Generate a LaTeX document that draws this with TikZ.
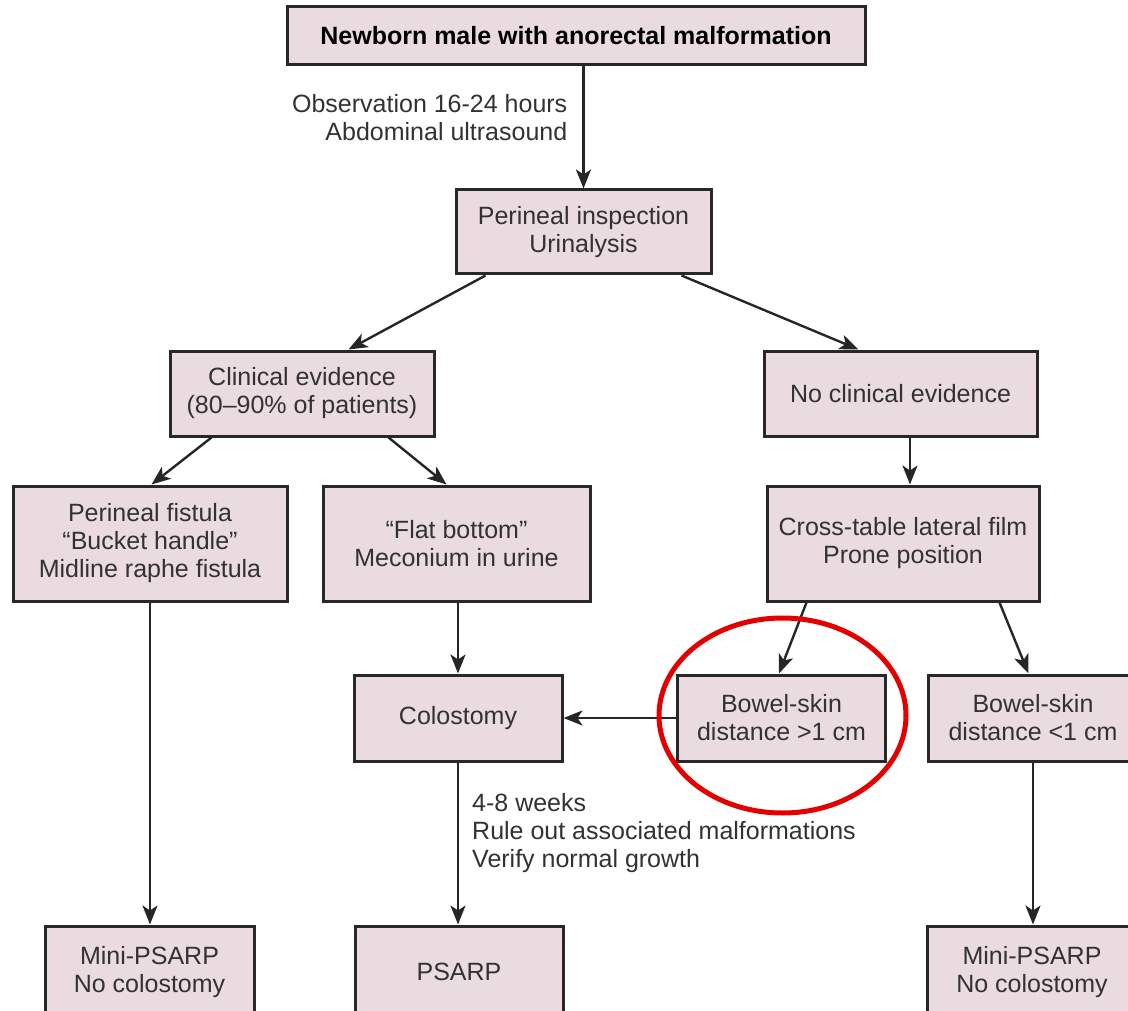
\documentclass[tikz,border=0pt]{standalone}
\usepackage{fontspec}
\setmainfont{Liberation Sans}
\usetikzlibrary{arrows.meta,positioning,calc}
\definecolor{boxfill}{RGB}{233,219,224}
\definecolor{boxline}{RGB}{40,40,40}
\definecolor{txtgray}{RGB}{50,50,50}
\definecolor{ringred}{RGB}{228,0,0}

\begin{document}
\begin{tikzpicture}[x=1pt,y=-1pt,>={Stealth[length=19pt,width=15pt,inset=5pt]},line width=2.4pt,
      stage/.style={draw=boxline,line width=3pt,fill=boxfill,align=center,text=txtgray,
        font=\fontsize{25}{28}\selectfont,inner sep=0pt},
      note/.style={text=txtgray,font=\fontsize{25}{28}\selectfont,inner sep=0pt},
      ring/.style={draw=ringred,line width=5pt}]
      \useasboundingbox (0,0) rectangle (1128,1011);
      \clip (0,0) rectangle (1128,1011);

      \node[stage,minimum width=578,minimum height=58,text=black,
        font=\bfseries\fontsize{25}{28}\selectfont] (top) at (576,36) {Newborn male with anorectal malformation};
      \node[stage,minimum width=255,minimum height=84] (perin) at (583.5,232) {Perineal inspection\\Urinalysis};
      \node[stage,minimum width=264,minimum height=85] (clin) at (302,393.5) {Clinical evidence\\(80--90\% of patients)};
      \node[stage,minimum width=273,minimum height=85] (noclin) at (900.5,393.5) {No clinical evidence};
      \node[stage,minimum width=274,minimum height=115] (fist) at (150,543.5) {Perineal fistula\\“Bucket handle”\\Midline raphe fistula};
      \node[stage,minimum width=267,minimum height=115] (flat) at (456.5,543.5) {“Flat bottom”\\Meconium in urine};
      \node[stage,minimum width=272,minimum height=115] (cross) at (903,543.5) {Cross-table lateral film\\Prone position};
      \node[stage,minimum width=208,minimum height=86] (colo) at (458,718) {Colostomy};
      \node[stage,minimum width=208,minimum height=86] (bgt) at (781.5,718) {Bowel-skin\\distance >1 cm};
      \node[stage,minimum width=210,minimum height=86] (blt) at (1033,718) {Bowel-skin\\distance <1 cm};
      \node[stage,minimum width=209,minimum height=92] (mini1) at (149.5,972) {Mini-PSARP\\No colostomy};
      \node[stage,minimum width=208,minimum height=92] (psarp) at (459,972) {PSARP};
      \node[stage,minimum width=210,minimum height=92] (mini2) at (1032,972) {Mini-PSARP\\No colostomy};

      \path[->,color=black!85]
      (perin.north |- top.south) edge node [note,left=15pt,pos=.42,align=right] (obs)
        {Observation 16-24 hours\\Abdominal ultrasound} (perin.north)

      ([xshift=31pt]perin.south west) edge ([xshift=180pt]clin.north west)
      ([xshift=-31pt]perin.south east) edge ([xshift=96pt]noclin.north west)

      ([xshift=43pt]clin.south west) edge ([xshift=140pt]fist.north west)
      ([xshift=-47pt]clin.south east) edge ([xshift=125pt]flat.north west)

      ([xshift=7pt]cross.north |- noclin.south) edge ([xshift=7pt]cross.north)
      ([xshift=41pt]cross.south west) edge ([xshift=103pt]bgt.north west)
      ([xshift=-41pt]cross.south east) edge ([xshift=102pt]blt.north west)

      (flat.south -| colo.north) edge (colo.north)
      (bgt.west) edge (colo.east)
      (colo.south) edge node [note,right=13pt,pos=.435,align=left] (wks)
        {4-8 weeks\\Rule out associated malformations\\Verify normal growth} (colo.south |- psarp.north)

      (fist.south) edge (fist.south |- mini1.north)
      (blt.south) edge (blt.south |- mini2.north);

      \draw[ring] ([xshift=1pt,yshift=2.5pt]bgt.center) ellipse [x radius=123.5,y radius=97.5];
  \end{tikzpicture}
\end{document}
